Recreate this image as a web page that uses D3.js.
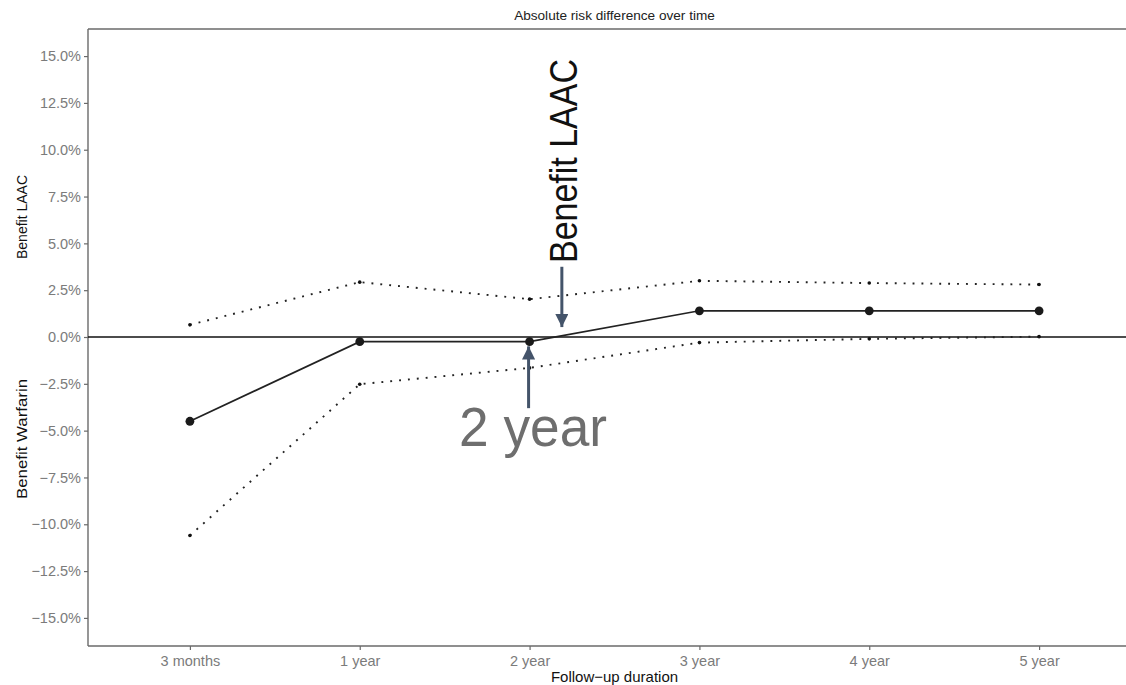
<!DOCTYPE html>
<html>
<head>
<meta charset="utf-8">
<script src="https://cdn.jsdelivr.net/npm/d3@7"></script>
<style>
  html, body { margin: 0; padding: 0; background: #fff; }
  svg { display: block; font-family: "Liberation Sans", Arial, Helvetica, sans-serif; }
</style>
</head>
<body>
<svg id="chart" width="1126" height="685"></svg>
<script>
// Follow-up time points
const categories = ["3 months", "1 year", "2 year", "3 year", "4 year", "5 year"];
// Absolute risk difference (%) and its confidence bounds
const riskDiff = [-4.5, -0.25, -0.25, 1.4, 1.4, 1.4];
const upperCI = [0.65, 2.93, 2.02, 3.0, 2.88, 2.8];
const lowerCI = [-10.6, -2.52, -1.65, -0.3, -0.1, 0.02];
// Y axis ticks (%)
const yTicks = [-15, -12.5, -10, -7.5, -5, -2.5, 0, 2.5, 5, 7.5, 10, 12.5, 15];

const svg = d3.select("#chart");
const panel = { left: 88, right: 1141, top: 28, bottom: 646 };

const x = d3.scalePoint().domain(categories).range([panel.left, panel.right]).padding(0.6);
const y = d3.scaleLinear().domain([-16.5, 16.5]).range([panel.bottom, panel.top]);

const fmt = v => (v < 0 ? "\u2212" : "") + Math.abs(v).toFixed(1) + "%";

// Title
svg.append("text")
  .attr("x", (panel.left + panel.right) / 2).attr("y", 20)
  .attr("text-anchor", "middle").attr("font-size", 13.6).attr("fill", "#222")
  .text("Absolute risk difference over time");

// Top border of the panel
svg.append("line")
  .attr("x1", panel.left).attr("x2", panel.right)
  .attr("y1", panel.top + 1).attr("y2", panel.top + 1)
  .attr("stroke", "#6a6a6a").attr("stroke-width", 1.4);

// Y axis
const gy = svg.append("g").attr("transform", `translate(${panel.left},0)`)
  .call(d3.axisLeft(y).tickValues(yTicks).tickFormat(fmt).tickSize(4).tickSizeOuter(0).tickPadding(3));
gy.select(".domain").attr("stroke", "#6a6a6a").attr("stroke-width", 1.4)
  .attr("d", `M0,${panel.top + 1}V${panel.bottom}`);
gy.selectAll(".tick line").attr("stroke", "#6a6a6a").attr("stroke-width", 1.2);
gy.selectAll(".tick text").attr("fill", "#7b7b7b").attr("font-size", 14.5)
  .attr("font-family", "'Liberation Sans', Arial, sans-serif");

// X axis
const gx = svg.append("g").attr("transform", `translate(0,${panel.bottom})`)
  .call(d3.axisBottom(x).tickSize(4).tickSizeOuter(0).tickPadding(6));
gx.select(".domain").attr("stroke", "#6a6a6a").attr("stroke-width", 1.4)
  .attr("d", `M${panel.left},0H${panel.right}`);
gx.selectAll(".tick line").attr("stroke", "#6a6a6a").attr("stroke-width", 1.2);
gx.selectAll(".tick text").attr("fill", "#7b7b7b").attr("font-size", 14.5)
  .attr("font-family", "'Liberation Sans', Arial, sans-serif");

// Axis titles
svg.append("text")
  .attr("x", (panel.left + panel.right) / 2).attr("y", 682)
  .attr("text-anchor", "middle").attr("font-size", 15).attr("fill", "#111")
  .text("Follow\u2212up duration");

svg.append("text")
  .attr("transform", `translate(27,217) rotate(-90)`)
  .attr("text-anchor", "middle").attr("font-size", 14).attr("fill", "#111")
  .text("Benefit LAAC");

svg.append("text")
  .attr("transform", `translate(27,439) rotate(-90)`)
  .attr("text-anchor", "middle").attr("font-size", 14).attr("fill", "#111")
  .attr("textLength", 120).attr("lengthAdjust", "spacingAndGlyphs")
  .text("Benefit Warfarin");

// Zero reference line
svg.append("line")
  .attr("x1", panel.left).attr("x2", panel.right)
  .attr("y1", y(0)).attr("y2", y(0))
  .attr("stroke", "#111").attr("stroke-width", 1.4);

const line = d3.line().x((d, i) => x(categories[i])).y(d => y(d));

// Confidence bounds (dotted)
[upperCI, lowerCI].forEach(series => {
  svg.append("path").datum(series)
    .attr("d", line).attr("fill", "none")
    .attr("stroke", "#222").attr("stroke-width", 1.9)
    .attr("stroke-dasharray", "1.9 7");
  svg.selectAll(null).data(series).enter().append("circle")
    .attr("cx", (d, i) => x(categories[i])).attr("cy", d => y(d))
    .attr("r", 1.8).attr("fill", "#111");
});

// Point estimate
svg.append("path").datum(riskDiff)
  .attr("d", line).attr("fill", "none")
  .attr("stroke", "#222").attr("stroke-width", 1.7);
svg.selectAll(null).data(riskDiff).enter().append("circle")
  .attr("cx", (d, i) => x(categories[i])).attr("cy", d => y(d))
  .attr("r", 4.4).attr("fill", "#1a1a1a");

// Annotation arrows
const arrowColor = "#44546a";
const defs = svg.append("defs");
defs.append("marker").attr("id", "arrowhead")
  .attr("viewBox", "0 0 10 10").attr("refX", 10).attr("refY", 5)
  .attr("markerWidth", 4.4).attr("markerHeight", 4.4).attr("orient", "auto")
  .attr("markerUnits", "strokeWidth")
  .append("path").attr("d", "M0,0L10,5L0,10Z").attr("fill", arrowColor);

const step = x.step();
const xLaac = x("2 year") + 0.19 * step;
svg.append("line")
  .attr("x1", xLaac).attr("x2", xLaac)
  .attr("y1", y(3.75)).attr("y2", y(0.53))
  .attr("stroke", arrowColor).attr("stroke-width", 3)
  .attr("marker-end", "url(#arrowhead)");

const xTwo = x("2 year") - 1;
svg.append("line")
  .attr("x1", xTwo).attr("x2", xTwo)
  .attr("y1", y(-3.8)).attr("y2", y(-0.5))
  .attr("stroke", arrowColor).attr("stroke-width", 3)
  .attr("marker-end", "url(#arrowhead)");

// Annotation labels
svg.append("text")
  .attr("transform", `translate(${xLaac + 15},263) rotate(-90)`)
  .attr("font-size", 38).attr("fill", "#111")
  .attr("textLength", 204).attr("lengthAdjust", "spacingAndGlyphs")
  .text("Benefit LAAC");

svg.append("text")
  .attr("x", 459).attr("y", 446)
  .attr("font-size", 55).attr("fill", "#6e6e6e")
  .attr("textLength", 148).attr("lengthAdjust", "spacingAndGlyphs")
  .text("2 year");
</script>
</body>
</html>
